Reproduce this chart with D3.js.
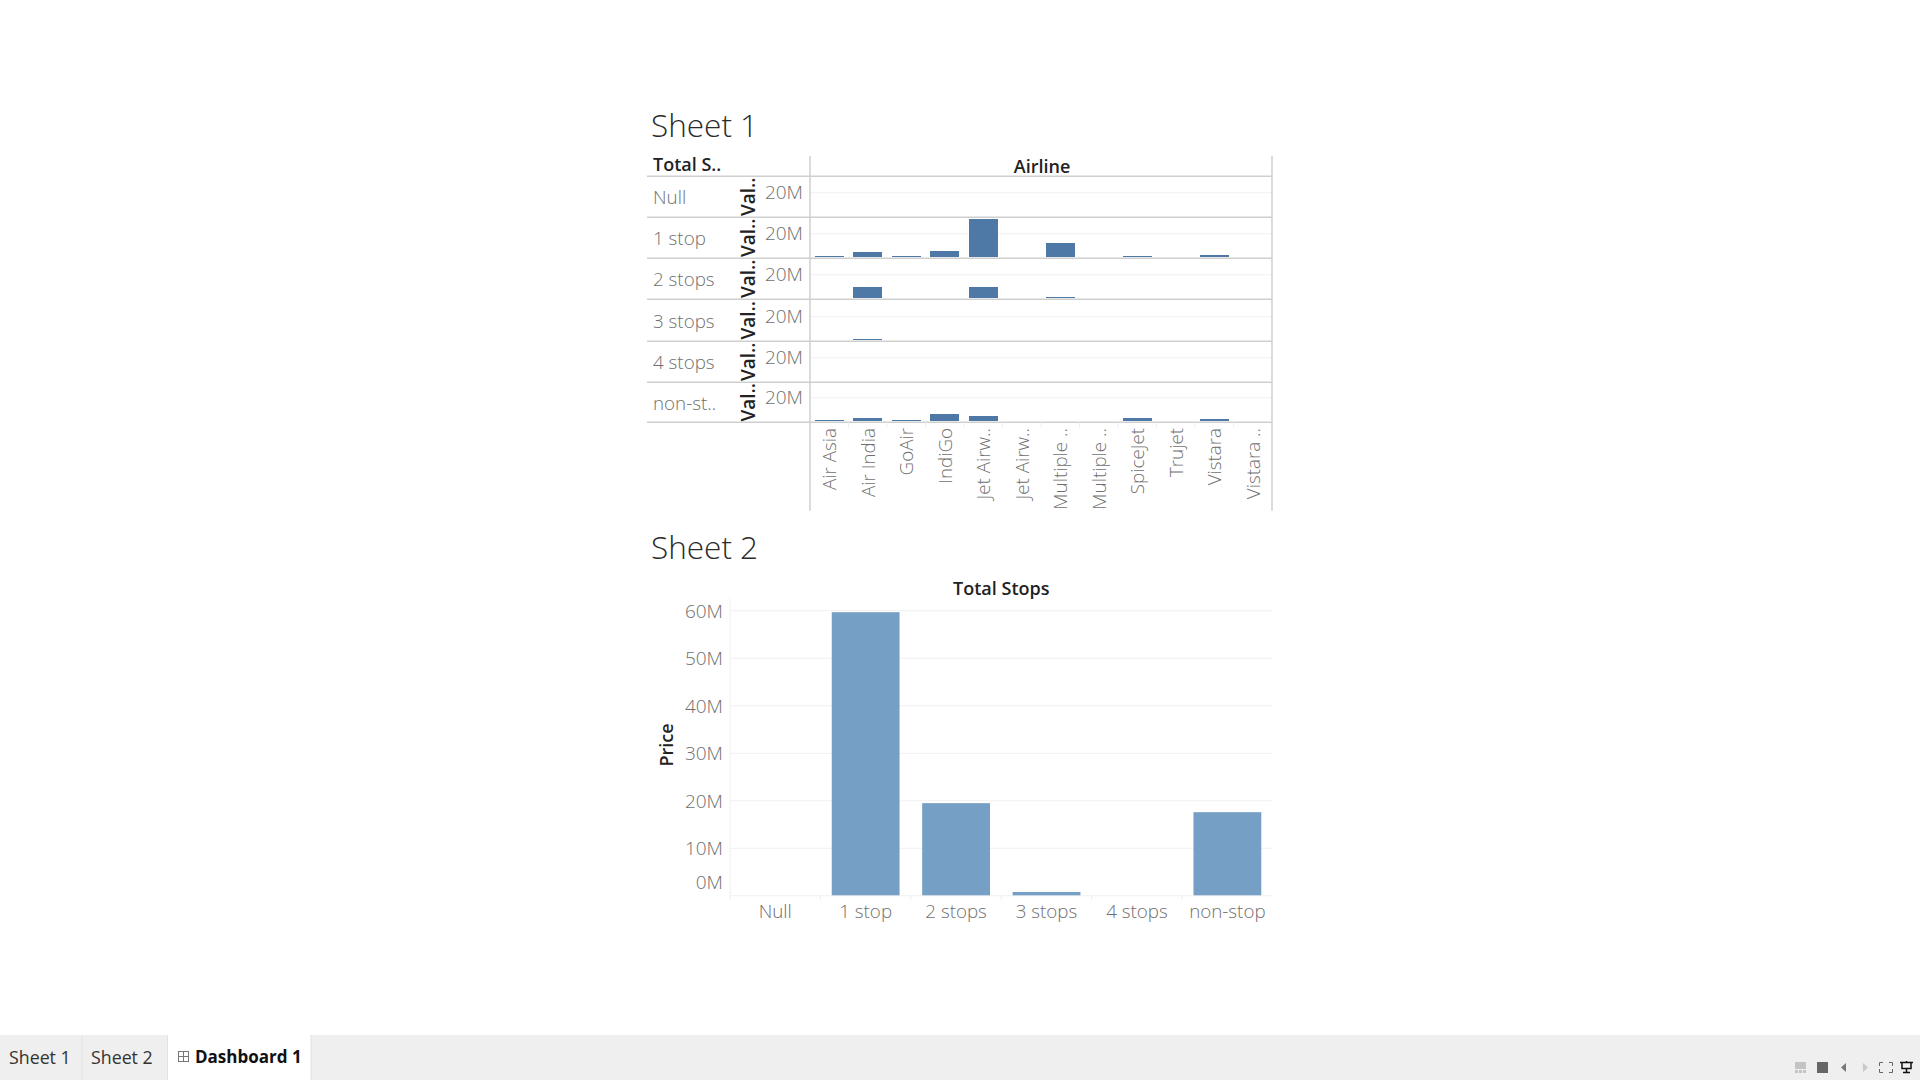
<!DOCTYPE html>
<html>
<head>
<meta charset="utf-8">
<script src="https://cdn.jsdelivr.net/npm/d3@7"></script>
<style>
  html, body { margin: 0; background: #fff; }
  svg { display: block; font-family: "Open Sans", sans-serif; }
  .title { font-size: 31.5px; font-weight: 300; fill: #2b2b2b; }
  .label { font-size: 18.8px; font-weight: 300; fill: #6f6f6f; }
  .head { font-size: 18px; font-weight: 600; fill: #222; }
  .val { font-size: 19px; }
  .axis path { display: none; }
  .axis .tick line { stroke: #f0f0f0; }
  .axis .tick text { font-family: "Open Sans", sans-serif; font-size: 19px; font-weight: 300; fill: #6f6f6f; }
</style>
</head>
<body>
<div class="canvas"></div>
<script>
// airlines and stop categories
const airlines = ["Air Asia", "Air India", "GoAir", "IndiGo", "Jet Airw..", "Jet Airw..", "Multiple ..", "Multiple ..", "SpiceJet", "Trujet", "Vistara", "Vistara .."];
const stops = ["Null", "1 stop", "2 stops", "3 stops", "4 stops", "non-stop"];
const stopLabels = ["Null", "1 stop", "2 stops", "3 stops", "4 stops", "non-st.."];

// sheet 1 price per airline, in millions, one list per stop row
const nullRow = [0, 0, 0, 0, 0, 0, 0, 0, 0, 0, 0, 0];
const oneStop = [0.8, 4.5, 0.8, 5.3, 31, 0, 11.7, 0, 0.8, 0, 2.1, 0];
const twoStops = [0, 8.8, 0, 0, 8.8, 0, 0.8, 0, 0, 0, 0, 0];
const threeStops = [0, 0.8, 0, 0, 0, 0, 0, 0, 0, 0, 0, 0];
const fourStops = [0, 0, 0, 0, 0, 0, 0, 0, 0, 0, 0, 0];
const nonStop = [0.8, 2.4, 0.8, 5.6, 4, 0, 0, 0, 2.4, 0, 1.6, 0];
const rows = [nullRow, oneStop, twoStops, threeStops, fourStops, nonStop];

// sheet 2 total price per stop category, in millions
const totals = [0, 59.6, 19.4, 0.7, 0, 17.5];
const totalTicks = [0, 10, 20, 30, 40, 50, 60];
const rowTicks = [20];

const fmt = (d) => `${d}M`;
const lineColor = "#cfcfcf";

const svg = d3
  .select(".canvas")
  .append("svg")
  .attr("width", 1920)
  .attr("height", 1080);

// ======= sheet 1
const s1 = { left: 647, axis: 810, right: 1272, top: 156, end: 510.7 };
// row borders are not evenly spaced in the reference
const rowEdges = [176.3, 217.3, 258.3, 299.3, 341.3, 382.3, 422.3];
const rowBottom = (i) => rowEdges[i + 1];
const rowMiddle = (i) => (rowEdges[i + 1] - rowEdges[i]) / 2;

svg.append("text").attr("class", "title").attr("x", 651).attr("y", 137).text("Sheet 1");

const x1 = d3.scaleBand().domain(d3.range(airlines.length)).range([s1.axis, s1.right]).paddingInner(0.25).paddingOuter(0.125);
// every row shares this scale, measured up from its own baseline
const yRow = d3.scaleLinear().domain([0, 20]).range([0, -25]);

const rowGroups = svg
  .selectAll("g.row")
  .data(rows)
  .enter()
  .append("g")
  .attr("class", "row")
  .attr("transform", (d, i) => `translate(0, ${rowBottom(i)})`);

// gridline and 20M label of each row
rowGroups
  .append("g")
  .attr("class", "axis")
  .attr("transform", `translate(${s1.axis}, 0)`)
  .call(d3.axisLeft(yRow).tickValues(rowTicks).tickFormat(fmt).tickSize(-(s1.right - s1.axis)).tickPadding(7));

rowGroups
  .selectAll("rect")
  .data((d) => d.map((v, i) => ({ v, i })).filter((d) => d.v > 0))
  .enter()
  .append("rect")
  .attr("x", (d) => x1(d.i))
  .attr("width", x1.bandwidth())
  .attr("y", (d) => yRow(d.v) - 0.8)
  .attr("height", (d) => -yRow(d.v))
  .attr("shape-rendering", "crispEdges")
  .attr("fill", "#4e79a7");

rowGroups
  .append("text")
  .attr("class", "label")
  .attr("x", 653)
  .attr("y", (d, i) => -rowMiddle(i) + 7.5)
  .text((d, i) => stopLabels[i]);

rowGroups
  .append("text")
  .attr("class", "head val")
  .attr("transform", (d, i) => `translate(755, ${-rowMiddle(i)}) rotate(-90)`)
  .attr("text-anchor", "middle")
  .text("Val..");

// row separators
svg
  .selectAll("line.sep")
  .data(rowEdges)
  .enter()
  .append("line")
  .attr("class", "sep")
  .attr("x1", s1.left)
  .attr("x2", s1.right)
  .attr("y1", (d) => d)
  .attr("y2", (d) => d)
  .attr("stroke", lineColor)
  .attr("stroke-width", 1.5);

// column borders
svg
  .selectAll("line.border")
  .data([s1.axis, s1.right])
  .enter()
  .append("line")
  .attr("class", "border")
  .attr("x1", (d) => d)
  .attr("x2", (d) => d)
  .attr("y1", s1.top)
  .attr("y2", s1.end)
  .attr("stroke", lineColor)
  .attr("stroke-width", 1.5);

// faint ticks under the last row
svg
  .selectAll("line.tick1")
  .data(d3.range(1, airlines.length))
  .enter()
  .append("line")
  .attr("x1", (d) => x1(d) - (x1.step() - x1.bandwidth()) / 2)
  .attr("x2", (d) => x1(d) - (x1.step() - x1.bandwidth()) / 2)
  .attr("y1", rowBottom(5))
  .attr("y2", rowBottom(5) + 5)
  .attr("stroke", "#eeeeee");

svg
  .selectAll("text.airline")
  .data(airlines)
  .enter()
  .append("text")
  .attr("class", "label airline")
  .attr("text-anchor", "end")
  .attr("transform", (d, i) => `translate(${x1(i) + x1.bandwidth() / 2 + 7}, 428) rotate(-90)`)
  .text((d) => d);

svg.append("text").attr("class", "head").attr("x", 653).attr("y", 171).text("Total S..");
svg
  .append("text")
  .attr("class", "head")
  .attr("x", (s1.axis + s1.right) / 2 + 1)
  .attr("y", 172.5)
  .attr("text-anchor", "middle")
  .text("Airline");

// ======= sheet 2
const s2 = { left: 730, right: 1272.6, top: 598.3, bottom: 895.3 };

svg.append("text").attr("class", "title").attr("x", 651).attr("y", 559).text("Sheet 2");

const x2 = d3.scaleBand().domain(stops).range([s2.left, s2.right]).paddingInner(0.25).paddingOuter(0.125);
const y2 = d3.scaleLinear().domain([0, 60]).range([s2.bottom, 610.3]);

const yAxis2 = svg
  .append("g")
  .attr("class", "axis")
  .attr("transform", `translate(${s2.left}, 0)`)
  .call(d3.axisLeft(y2).tickValues(totalTicks).tickFormat(fmt).tickSize(-(s2.right - s2.left)).tickPadding(7));

// labels sit about a pixel below their gridline
yAxis2.selectAll(".tick text").attr("dy", "0.37em");
// the 0M label sits above its baseline in the reference
yAxis2.selectAll(".tick").filter((d) => d === 0).select("text").attr("dy", "-0.35em");

svg
  .append("line")
  .attr("x1", s2.left)
  .attr("x2", s2.left)
  .attr("y1", s2.top)
  .attr("y2", s2.bottom)
  .attr("stroke", "#f0f0f0");

svg
  .selectAll("rect.total")
  .data(totals.map((v, i) => ({ v, stop: stops[i] })).filter((d) => d.v > 0))
  .enter()
  .append("rect")
  .attr("class", "total")
  .attr("x", (d) => x2(d.stop))
  .attr("width", x2.bandwidth())
  .attr("y", (d) => y2(d.v))
  .attr("height", (d) => y2(0) - y2(d.v))
  .attr("fill", "#769fc5");

// category ticks between bands
svg
  .selectAll("line.tick2")
  .data(d3.range(0, stops.length))
  .enter()
  .append("line")
  .attr("x1", (d) => x2(stops[d]) - (x2.step() - x2.bandwidth()) / 2)
  .attr("x2", (d) => x2(stops[d]) - (x2.step() - x2.bandwidth()) / 2)
  .attr("y1", s2.bottom)
  .attr("y2", s2.bottom + 5)
  .attr("stroke", "#eeeeee");

svg
  .selectAll("text.stop")
  .data(stops)
  .enter()
  .append("text")
  .attr("class", "label stop")
  .attr("x", (d) => x2(d) + x2.bandwidth() / 2)
  .attr("y", 918)
  .attr("text-anchor", "middle")
  .text((d) => d);

svg
  .append("text")
  .attr("class", "head")
  .attr("x", (s2.left + s2.right) / 2)
  .attr("y", 595)
  .attr("text-anchor", "middle")
  .text("Total Stops");
svg
  .append("text")
  .attr("class", "head")
  .attr("transform", "translate(673, 745) rotate(-90)")
  .attr("text-anchor", "middle")
  .text("Price");

// ======= tab bar
const tabs = svg.append("g");
tabs.append("rect").attr("x", 0).attr("y", 1035).attr("width", 1920).attr("height", 45).attr("fill", "#efefef");
tabs.append("rect").attr("x", 168).attr("y", 1035).attr("width", 143).attr("height", 45).attr("fill", "#fff");
[82, 167.5, 311].forEach((x) => {
  tabs.append("line").attr("x1", x).attr("x2", x).attr("y1", 1035).attr("y2", 1080).attr("stroke", "#e2e2e2");
});
tabs.append("text").attr("x", 9).attr("y", 1064).attr("font-size", 17.8).attr("fill", "#333").text("Sheet 1");
tabs.append("text").attr("x", 91).attr("y", 1064).attr("font-size", 17.8).attr("fill", "#333").text("Sheet 2");
tabs.append("text").attr("x", 195).attr("y", 1063).attr("font-size", 17).attr("font-weight", 700).attr("fill", "#111").text("Dashboard 1");

// small dashboard glyph
tabs.append("rect").attr("x", 178.5).attr("y", 1051.5).attr("width", 10).attr("height", 10).attr("fill", "none").attr("stroke", "#777");
tabs.append("path").attr("d", "M183.5 1051.5V1061.5M178.5 1056.5H188.5").attr("stroke", "#777");

// window controls
tabs.append("rect").attr("x", 1795).attr("y", 1062).attr("width", 11).attr("height", 7).attr("fill", "#c4c4c4");
[1795, 1799, 1803].forEach((x) => {
  tabs.append("rect").attr("x", x).attr("y", 1070).attr("width", 3).attr("height", 3).attr("fill", "#c4c4c4");
});
tabs.append("rect").attr("x", 1817).attr("y", 1062).attr("width", 11).attr("height", 11).attr("fill", "#666");
tabs.append("path").attr("d", "M1846 1063V1072L1841 1067.5Z").attr("fill", "#777");
tabs.append("path").attr("d", "M1863 1063V1072L1868 1067.5Z").attr("fill", "#c8c8c8");
tabs
  .append("path")
  .attr("d", "M1879.5 1066V1062.5H1883M1889 1062.5H1892.5V1066M1892.5 1069V1072.5H1889M1883 1072.5H1879.5V1069")
  .attr("fill", "none")
  .attr("stroke", "#666");
tabs
  .append("path")
  .attr("d", "M1900 1062.5H1913M1902 1062.5V1068.5H1911V1062.5M1906.5 1068.5V1072M1903 1072.5H1910M1906.5 1061V1062")
  .attr("fill", "none")
  .attr("stroke", "#111")
  .attr("stroke-width", 1.5);
</script>
</body>
</html>
